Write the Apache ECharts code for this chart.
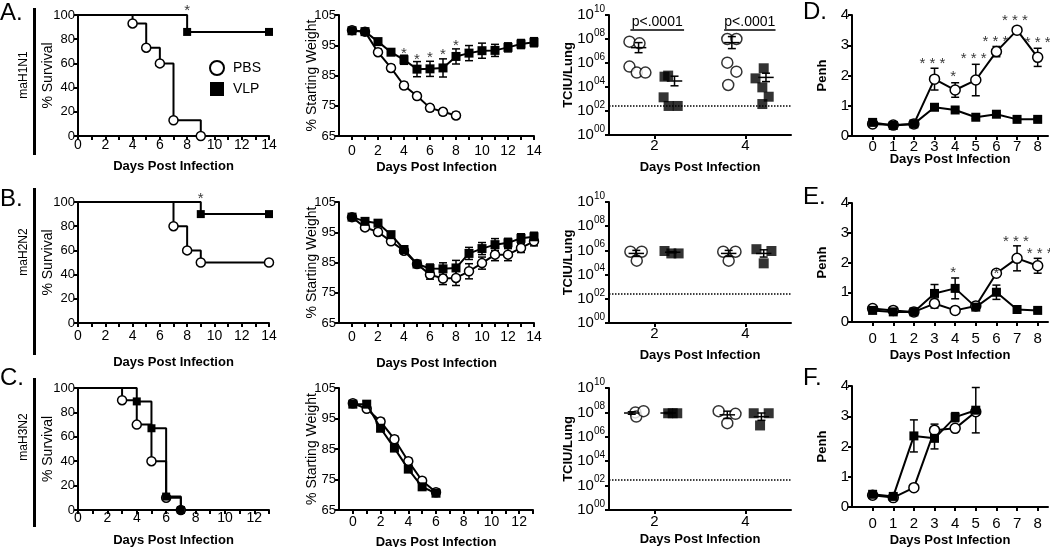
<!DOCTYPE html>
<html>
<head>
<meta charset="utf-8">
<script src="https://cdn.jsdelivr.net/npm/echarts@6/dist/echarts.min.js"></script>
<style>
  html, body { margin: 0; padding: 0; background: #fff; }
  #chart { width: 1050px; height: 547px; }
</style>
</head>
<body>
<div id="chart"></div>
<script>
// ---------- data ----------
// survival curves [day, % alive]
const survA_PBS = [[0, 100], [4, 93], [5, 73], [6, 60], [7, 13], [9, 0]];
const survA_VLP = [[0, 100], [8, 86], [14, 86]];
const survB_PBS = [[0, 100], [7, 80], [8, 60], [9, 50], [14, 50]];
const survB_VLP = [[0, 100], [9, 90], [14, 90]];
const survC_PBS = [[0, 100], [3, 90], [4, 70], [5, 40], [6, 10], [7, 0]];
const survC_VLP = [[0, 100], [4, 89], [5, 67], [6, 11], [7, 0]];
const survStarsA = [[8, 106.9, '*']];
const survStarsB = [[9, 105.8, '*']];

// weight (% starting weight), mean and sem per day
const weightDaysA_PBS = [0, 1, 2, 3, 4, 5, 6, 7, 8];
const weightDays14 = [0, 1, 2, 3, 4, 5, 6, 7, 8, 9, 10, 11, 12, 13, 14];
const weightDaysC = [0, 1, 2, 3, 4, 5, 6];
const weightA_PBS = [100, 99.5, 92.7, 87.5, 81.7, 78.2, 74.3, 73, 71.8];
const weightA_PBS_err = [0.5, 0.5, 1, 1, 1, 1, 1, 1, 1];
const weightA_VLP = [99.8, 99.5, 96.2, 92.7, 90.2, 87.1, 87.2, 87.5, 91.3, 92.4, 93.2, 93.3, 94.3, 95.4, 96];
const weightA_VLP_err = [0.5, 0.5, 1, 1, 1.5, 2.5, 2.5, 3, 2.5, 2.5, 2.5, 2, 1.5, 1.5, 1.5];
const weightB_PBS = [100, 96.6, 95.1, 92, 88.9, 84.5, 81, 79.7, 79.9, 82.1, 84.8, 87.6, 87.6, 89.8, 92];
const weightB_PBS_err = [1, 1, 1, 1, 1, 1, 1.5, 2, 2.5, 2.5, 2, 2, 2, 1.5, 1.5];
const weightB_VLP = [100, 98.6, 98, 94.2, 89.3, 84.5, 83, 82.9, 83.2, 88, 89.6, 90.9, 91.5, 93, 93.5];
const weightB_VLP_err = [1, 1, 1, 1, 1, 1, 1.5, 2, 2.5, 2, 2, 2, 1.5, 1.5, 1.5];
const weightC_PBS = [100, 98.2, 94, 88.2, 81, 74.6, 70.8];
const weightC_PBS_err = [0.5, 0.5, 1, 1, 1, 1, 1];
const weightC_VLP = [99.7, 99.7, 91.8, 85.3, 78.4, 72.6, 70.5];
const weightC_VLP_err = [1, 1, 1, 1, 1, 1, 1];
const weightStarsA = [[4, 93.4, '*'], [5, 91.4, '*'], [6, 92.3, '*'], [7, 93.1, '*'], [8, 96.0, '*']];

// lung titers, log10 TCIU [x position, log10 value]
const tciuA_PBS = [[1.45, 7.78], [1.67, 7.64], [1.45, 5.7], [1.61, 5.2], [1.8, 5.2],
                   [3.6, 8.0], [3.8, 8.0], [3.6, 6.03], [3.8, 5.28], [3.62, 4.17]];
const tciuA_VLP = [[2.22, 4.86], [2.3, 4.95], [2.2, 3.14], [2.31, 2.42], [2.51, 2.42],
                   [4.4, 5.56], [4.22, 4.72], [4.37, 3.97], [4.51, 3.19], [4.37, 2.58]];
const tciuA_mean = [[1.65, 7.28, 0.42], [2.44, 4.5, 0.4], [3.7, 7.7, 0.5], [4.45, 4.8, 0.35]];
const tciuA_brackets = [[1.47, 2.65, 8.75, 'p<.0001'], [3.53, 4.66, 8.75, 'p<.0001']];
const tciuB_PBS = [[1.47, 5.89], [1.72, 5.89], [1.61, 5.15], [3.51, 5.89], [3.78, 5.89], [3.63, 5.15]];
const tciuB_VLP = [[2.22, 5.95], [2.37, 5.75], [2.53, 5.75], [4.24, 6.1], [4.57, 5.95], [4.4, 4.93]];
const tciuB_mean = [[1.6, 5.75, 0.25], [2.4, 5.85, 0.05], [3.63, 5.75, 0.25], [4.4, 5.75, 0.3]];
const tciuC_PBS = [[1.58, 8.0], [1.6, 7.66], [1.76, 8.1], [3.41, 8.1], [3.78, 7.88], [3.6, 7.12]];
const tciuC_VLP = [[2.3, 7.93], [2.4, 7.93], [2.5, 7.93], [4.18, 7.93], [4.51, 7.93], [4.32, 6.93]];
const tciuC_mean = [[1.5, 7.95, 0.1], [2.3, 7.95, 0.05], [3.6, 7.8, 0.3], [4.35, 7.65, 0.3]];
const tciuLOD = 2.45;

// Penh, mean and sem per day
const penhDays = [0, 1, 2, 3, 4, 5, 6, 7, 8];
const penhDaysF = [0, 1, 2, 3, 4, 5];
const penhD_PBS = [0.4, 0.36, 0.4, 1.88, 1.52, 1.85, 2.79, 3.5, 2.6];
const penhD_PBS_err = [0.05, 0.05, 0.05, 0.36, 0.24, 0.52, 0.17, 0.05, 0.3];
const penhD_VLP = [0.45, 0.35, 0.4, 0.95, 0.86, 0.62, 0.72, 0.55, 0.55];
const penhD_VLP_err = [0.05, 0.05, 0.05, 0.08, 0.08, 0.05, 0.05, 0.05, 0.05];
const penhE_PBS = [0.45, 0.39, 0.34, 0.62, 0.39, 0.54, 1.64, 2.14, 1.89];
const penhE_PBS_err = [0.05, 0.05, 0.05, 0.15, 0.05, 0.05, 0.1, 0.42, 0.25];
const penhE_VLP = [0.39, 0.34, 0.34, 0.96, 1.13, 0.5, 1.0, 0.42, 0.39];
const penhE_VLP_err = [0.05, 0.05, 0.05, 0.3, 0.35, 0.05, 0.24, 0.05, 0.05];
const penhF_PBS = [0.39, 0.31, 0.64, 2.54, 2.6, 3.15];
const penhF_PBS_err = [0.05, 0.05, 0.05, 0.2, 0.1, 0.05];
const penhF_VLP = [0.42, 0.35, 2.35, 2.27, 2.97, 3.2];
const penhF_VLP_err = [0.05, 0.05, 0.53, 0.35, 0.15, 0.75];
const penhStarsD = [[2.9, 2.51, '* * *'], [3.9, 2.09, '*'], [4.9, 2.68, '* * *'], [5.95, 3.23, '* * *'], [6.9, 3.94, '* * *'], [8.0, 3.2, '* * *']];
const penhStarsE = [[3.9, 1.77, '*'], [6.0, 1.75, '*'], [6.95, 2.82, '* * *'], [8.1, 2.42, '* * *']];

// axis ticks / labels
const dayTicks14 = [0, 1, 2, 3, 4, 5, 6, 7, 8, 9, 10, 11, 12, 13, 14];
const dayLabels14 = [0, 2, 4, 6, 8, 10, 12, 14];
const dayTicks13 = [0, 1, 2, 3, 4, 5, 6, 7, 8, 9, 10, 11, 12, 13];
const dayLabels13 = [0, 2, 4, 6, 8, 10, 12];
const survYTicks = [0, 20, 40, 60, 80, 100];
const weightYTicks = [65, 75, 85, 95, 105];
const tciuXTicks = [2, 4];
const tciuYTicks = [0, 2, 4, 6, 8, 10];
const penhXTicks = [0, 1, 2, 3, 4, 5, 6, 7, 8];
const penhYTicks = [0, 1, 2, 3, 4];

// ---------- helpers ----------
const SANS = "'Liberation Sans', Arial, Helvetica, sans-serif";

const grids = [], xAxis = [], yAxis = [], series = [];

const axisLine = { show: true, onZero: false, lineStyle: { color: '#000', width: 2 } };

const xOpt = (min, max, ticks, labels, size, margin, gap) => ({
  type: 'value', min, max,
  name: 'Days Post Infection', nameLocation: 'middle', nameGap: gap, nameMoveOverlap: false,
  nameTextStyle: { fontFamily: SANS, fontWeight: 'bold', fontSize: 13, color: '#000' },
  axisLine,
  axisTick: { show: true, customValues: ticks, length: 4, lineStyle: { color: '#000', width: 2 } },
  axisLabel: { customValues: labels, color: '#000', fontFamily: SANS, fontSize: size, margin },
  splitLine: { show: false }
});

const yOpt = (min, max, ticks, name, gap, size, bold, extraLabel) => ({
  type: 'value', min, max,
  name, nameLocation: 'middle', nameGap: gap, nameMoveOverlap: false,
  nameTextStyle: { fontFamily: SANS, fontWeight: bold ? 'bold' : 'normal', fontSize: bold ? 13 : 14, color: '#000' },
  axisLine,
  axisTick: { show: true, customValues: ticks, length: 4, lineStyle: { color: '#000', width: 2 } },
  axisLabel: Object.assign({ customValues: ticks, color: '#000', fontFamily: SANS, fontSize: size, margin: 3 }, extraLabel || {}),
  splitLine: { show: false }
});

function panel(left, top, width, height, x, y) {
  const gi = grids.length;
  grids.push({ left, top, width, height, containLabel: false, outerBoundsMode: 'none' });
  xAxis.push(Object.assign({ gridIndex: gi }, x));
  yAxis.push(Object.assign({ gridIndex: gi }, y));
  return gi;
}

const pbsStyle = { color: '#fff', borderColor: '#000', borderWidth: 1.5 };
const vlpStyle = { color: '#000' };

function survSeries(name, gi, pts) {
  const pbs = name === 'PBS';
  return {
    name, type: 'line', step: 'end', xAxisIndex: gi, yAxisIndex: gi,
    data: pts.map((p, i) => (i === 0 ? { value: p, symbol: 'none' } : p)),
    symbol: pbs ? 'circle' : 'rect', symbolSize: pbs ? 9 : 8,
    lineStyle: { color: '#000', width: 2 }, itemStyle: pbs ? pbsStyle : vlpStyle,
    z: pbs ? 3 : 4, silent: true
  };
}

function lineSeries(name, gi, days, vals, size) {
  const pbs = name === 'PBS';
  return {
    name, type: 'line', xAxisIndex: gi, yAxisIndex: gi,
    data: days.map((d, i) => [d, vals[i]]),
    symbol: pbs ? 'circle' : 'rect', symbolSize: size,
    lineStyle: { color: '#000', width: 2 }, itemStyle: pbs ? pbsStyle : vlpStyle,
    z: pbs ? 3 : 4, silent: true
  };
}

function errorItem(params, api) {
  const x = api.value(0), y = api.value(1), e = api.value(2);
  const hi = api.coord([x, y + e]), lo = api.coord([x, y - e]);
  const cap = 4, st = { stroke: '#000', lineWidth: 1.5 };
  return { type: 'group', children: [
    { type: 'line', shape: { x1: hi[0], y1: hi[1], x2: lo[0], y2: lo[1] }, style: st },
    { type: 'line', shape: { x1: hi[0] - cap, y1: hi[1], x2: hi[0] + cap, y2: hi[1] }, style: st },
    { type: 'line', shape: { x1: lo[0] - cap, y1: lo[1], x2: lo[0] + cap, y2: lo[1] }, style: st }
  ] };
}

function errorSeries(gi, days, vals, errs) {
  return {
    type: 'custom', xAxisIndex: gi, yAxisIndex: gi, renderItem: errorItem,
    data: days.map((d, i) => [d, vals[i], errs[i]]), encode: { x: 0, y: 1 }, z: 2, silent: true
  };
}

function meanItem(params, api) {
  const x = api.value(0), m = api.value(1), e = api.value(2);
  const l = api.coord([x - 0.17, m]), r = api.coord([x + 0.17, m]);
  const hi = api.coord([x, m + e]), lo = api.coord([x, m - e]);
  const cap = 4, st = { stroke: '#000', lineWidth: 1.5 };
  return { type: 'group', children: [
    { type: 'line', shape: { x1: l[0], y1: l[1], x2: r[0], y2: r[1] }, style: st },
    { type: 'line', shape: { x1: hi[0], y1: hi[1], x2: lo[0], y2: lo[1] }, style: st },
    { type: 'line', shape: { x1: hi[0] - cap, y1: hi[1], x2: hi[0] + cap, y2: hi[1] }, style: st },
    { type: 'line', shape: { x1: lo[0] - cap, y1: lo[1], x2: lo[0] + cap, y2: lo[1] }, style: st }
  ] };
}

function starSeries(gi, pts) {
  return {
    type: 'scatter', xAxisIndex: gi, yAxisIndex: gi, clip: false, silent: true, z: 10,
    data: pts.map(p => ({ value: [p[0], p[1]], name: p[2] })),
    symbolSize: 1, itemStyle: { color: 'rgba(0,0,0,0)' },
    label: { show: true, position: 'inside', formatter: '{b}', fontSize: 15, color: '#000', fontFamily: SANS, offset: [0, 4] }
  };
}

function tciuSeries(gi, pbs, vlp, means, withBrackets) {
  series.push({
    name: 'PBS', type: 'scatter', xAxisIndex: gi, yAxisIndex: gi, data: pbs,
    symbol: 'circle', symbolSize: 11, itemStyle: pbsStyle, z: 3, silent: true,
    markLine: {
      silent: true, symbol: 'none', label: { show: false },
      lineStyle: { type: 'dotted', color: '#000', width: 1.5 },
      data: [{ yAxis: tciuLOD }]
    }
  });
  series.push({
    name: 'VLP', type: 'scatter', xAxisIndex: gi, yAxisIndex: gi, data: vlp,
    symbol: 'rect', symbolSize: 10, itemStyle: vlpStyle, z: 3, silent: true
  });
  series.push({
    type: 'custom', xAxisIndex: gi, yAxisIndex: gi, renderItem: meanItem,
    data: means, encode: { x: 0, y: 1 }, z: 4, silent: true
  });
  if (withBrackets) {
    series.push({
      type: 'custom', xAxisIndex: gi, yAxisIndex: gi, silent: true,
      data: withBrackets.map(b => [b[0], b[2]]), encode: { x: 0, y: 1 },
      renderItem: (params, api) => {
        const b = withBrackets[params.dataIndex];
        const p1 = api.coord([b[0], b[2]]), p2 = api.coord([b[1], b[2]]);
        return { type: 'group', children: [
          { type: 'line', shape: { x1: p1[0], y1: p1[1], x2: p2[0], y2: p2[1] }, style: { stroke: '#000', lineWidth: 1.5 } },
          { type: 'text', x: (p1[0] + p2[0]) / 2, y: p1[1] - 1,
            style: { text: b[3], align: 'center', verticalAlign: 'bottom', font: '14px ' + SANS, fill: '#000' } }
        ] };
      }
    });
  }
}

const tciuLabel = {
  fontFamily: SANS, margin: 4,
  formatter: v => '{b|10}{s|' + String(v).padStart(2, '0') + '}',
  rich: {
    b: { fontSize: 15, color: '#000', fontFamily: SANS },
    s: { fontSize: 10, color: '#000', fontFamily: SANS, padding: [0, 0, 12, 0] }
  }
};

// ---------- layout ----------
const rowTop = [15, 202, 388];
const rowH = [121, 121, 122];

// survival
const sA = panel(78, rowTop[0], 191, rowH[0], xOpt(0, 14, dayTicks14, dayLabels14, 14, 2, 24), yOpt(0, 100, survYTicks, '% Survival', 23, 13, false));
const sB = panel(78, rowTop[1], 191, rowH[1], xOpt(0, 14, dayTicks14, dayLabels14, 14, 6, 33), yOpt(0, 100, survYTicks, '% Survival', 23, 13, false));
const sC = panel(78, rowTop[2], 191, rowH[2], xOpt(0, 13, dayTicks13, dayLabels13, 14, 1, 24), yOpt(0, 100, survYTicks, '% Survival', 23, 13, false));
series.push(survSeries('PBS', sA, survA_PBS), survSeries('VLP', sA, survA_VLP), starSeries(sA, survStarsA));
series.push(survSeries('PBS', sB, survB_PBS), survSeries('VLP', sB, survB_VLP), starSeries(sB, survStarsB));
series.push(survSeries('PBS', sC, survC_PBS), survSeries('VLP', sC, survC_VLP));

// weight
const wA = panel(339, rowTop[0], 195, rowH[0], xOpt(-1, 14, dayTicks14, dayLabels14, 14, 8, 25), yOpt(65, 105, weightYTicks, '% Starting Weight', 20, 13, false));
const wB = panel(339, rowTop[1], 195, rowH[1], xOpt(-1, 14, dayTicks14, dayLabels14, 14, 7, 34), yOpt(65, 105, weightYTicks, '% Starting Weight', 20, 13, false));
const wC = panel(339, rowTop[2], 194, rowH[2], xOpt(-1, 13, dayTicks13, dayLabels13, 14, 5, 26), yOpt(65, 105, weightYTicks, '% Starting Weight', 20, 13, false));
series.push(errorSeries(wA, weightDaysA_PBS, weightA_PBS, weightA_PBS_err), errorSeries(wA, weightDays14, weightA_VLP, weightA_VLP_err),
  lineSeries('PBS', wA, weightDaysA_PBS, weightA_PBS, 9), lineSeries('VLP', wA, weightDays14, weightA_VLP, 9), starSeries(wA, weightStarsA));
series.push(errorSeries(wB, weightDays14, weightB_PBS, weightB_PBS_err), errorSeries(wB, weightDays14, weightB_VLP, weightB_VLP_err),
  lineSeries('PBS', wB, weightDays14, weightB_PBS, 9), lineSeries('VLP', wB, weightDays14, weightB_VLP, 9));
series.push(errorSeries(wC, weightDaysC, weightC_PBS, weightC_PBS_err), errorSeries(wC, weightDaysC, weightC_VLP, weightC_VLP_err),
  lineSeries('PBS', wC, weightDaysC, weightC_PBS, 9), lineSeries('VLP', wC, weightDaysC, weightC_VLP, 9));

// lung titers
const tA = panel(609, rowTop[0], 182, rowH[0] - 1, xOpt(1, 5, tciuXTicks, tciuXTicks, 15, 3, 26), yOpt(0, 10, tciuYTicks, 'TCIU/Lung', 34, 15, true, tciuLabel));
const tB = panel(609, rowTop[1], 182, rowH[1], xOpt(1, 5, tciuXTicks, tciuXTicks, 15, 3, 26), yOpt(0, 10, tciuYTicks, 'TCIU/Lung', 34, 15, true, tciuLabel));
const tC = panel(609, rowTop[2], 182, rowH[2], xOpt(1, 5, tciuXTicks, tciuXTicks, 15, 4, 23), yOpt(0, 10, tciuYTicks, 'TCIU/Lung', 34, 15, true, tciuLabel));
tciuSeries(tA, tciuA_PBS, tciuA_VLP, tciuA_mean, tciuA_brackets);
tciuSeries(tB, tciuB_PBS, tciuB_VLP, tciuB_mean, null);
tciuSeries(tC, tciuC_PBS, tciuC_VLP, tciuC_mean, null);

// Penh
const pD = panel(852, rowTop[0], 196, rowH[0], xOpt(-1, 8.5, penhXTicks, penhXTicks, 15, 3, 17), yOpt(0, 4, penhYTicks, 'Penh', 23, 15, true));
const pE = panel(852, rowTop[1] + 1, 196, rowH[1] - 2, xOpt(-1, 8.5, penhXTicks, penhXTicks, 15, 9, 27), yOpt(0, 4, penhYTicks, 'Penh', 23, 15, true));
const pF = panel(852, rowTop[2] - 2, 196, rowH[2] - 1, xOpt(-1, 8.5, penhXTicks, penhXTicks, 15, 9, 27), yOpt(0, 4, penhYTicks, 'Penh', 23, 15, true));
series.push(errorSeries(pD, penhDays, penhD_PBS, penhD_PBS_err), errorSeries(pD, penhDays, penhD_VLP, penhD_VLP_err),
  lineSeries('VLP', pD, penhDays, penhD_VLP, 9), lineSeries('PBS', pD, penhDays, penhD_PBS, 10), starSeries(pD, penhStarsD));
series.push(errorSeries(pE, penhDays, penhE_PBS, penhE_PBS_err), errorSeries(pE, penhDays, penhE_VLP, penhE_VLP_err),
  lineSeries('VLP', pE, penhDays, penhE_VLP, 9), lineSeries('PBS', pE, penhDays, penhE_PBS, 10), starSeries(pE, penhStarsE));
series.push(errorSeries(pF, penhDaysF, penhF_PBS, penhF_PBS_err), errorSeries(pF, penhDaysF, penhF_VLP, penhF_VLP_err),
  lineSeries('PBS', pF, penhDaysF, penhF_PBS, 10), lineSeries('VLP', pF, penhDaysF, penhF_VLP, 9));

// ---------- panel letters, strain labels ----------
const letter = (t, x, y) => ({ type: 'text', x, y, silent: true,
  style: { text: t, font: '24px ' + SANS, fill: '#000', align: 'left', verticalAlign: 'top' } });
const strain = (t, y) => ({ type: 'text', x: 24, y, rotation: Math.PI / 2, silent: true,
  style: { text: t, font: '12px ' + SANS, fill: '#000', align: 'center', verticalAlign: 'middle' } });
const bar = (y1, y2) => ({ type: 'rect', silent: true, shape: { x: 33, y: y1, width: 3, height: y2 - y1 }, style: { fill: '#000' } });

const chart = echarts.init(document.getElementById('chart'), null, { renderer: 'canvas' });
chart.setOption({
  animation: false,
  backgroundColor: '#fff',
  textStyle: { fontFamily: SANS },
  grid: grids,
  xAxis,
  yAxis,
  series,
  legend: {
    left: 204, top: 55, orient: 'vertical', selectedMode: false,
    itemWidth: 14, itemHeight: 14, itemGap: 6,
    textStyle: { fontSize: 14, fontFamily: SANS, color: '#000', padding: [0, 0, 0, 4] },
    data: [
      { name: 'PBS', icon: 'circle', itemStyle: { color: '#fff', borderColor: '#000', borderWidth: 2 } },
      { name: 'VLP', icon: 'rect', itemStyle: { color: '#000', borderWidth: 0 } }
    ]
  },
  graphic: [
    letter('A.', 0, 1), letter('B.', 0, 187), letter('C.', 0, 366),
    letter('D.', 803, 0), letter('E.', 803, 185), letter('F.', 803, 366),
    strain('maH1N1', 75), strain('maH2N2', 252), strain('maH3N2', 437),
    bar(8, 155), bar(188, 355), bar(378, 527)
  ]
});
</script>
</body>
</html>
